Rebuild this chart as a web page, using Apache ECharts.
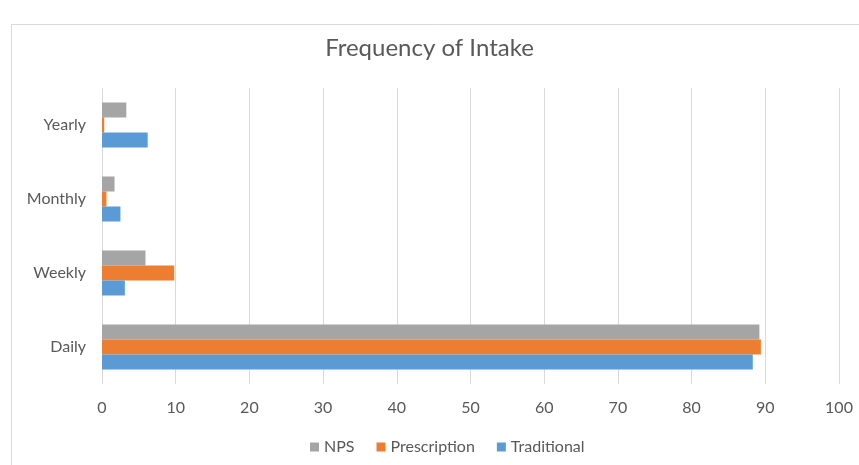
<!DOCTYPE html>
<html>
<head>
<meta charset="utf-8">
<script src="https://cdn.jsdelivr.net/npm/echarts@6/dist/echarts.min.js"></script>
<style>html,body{margin:0;padding:0;background:#fff}#c{width:859px;height:465px}</style>
</head>
<body>
<div id="c"></div>
<script>
var categories = ['Daily', 'Weekly', 'Monthly', 'Yearly'];
var traditional = [88.3, 3.1, 2.5, 6.2];
var prescription = [89.4, 9.8, 0.6, 0.3];
var nps = [89.2, 5.9, 1.7, 3.3];
var xTicks = [0, 10, 20, 30, 40, 50, 60, 70, 80, 90, 100];

var font = 'Lato, "Open Sans", sans-serif';
var chart = echarts.init(document.getElementById('c'), null, {renderer: 'canvas'});
chart.setOption({
  backgroundColor: '#ffffff',
  animation: false,
  graphic: [{
    type: 'rect', left: 9, top: 22,
    shape: {width: 900, height: 500},
    style: {fill: 'none', stroke: '#D9D9D9', lineWidth: 1}, silent: true, z: -1
  }],
  title: {
    text: 'Frequency of Intake', left: 'center', top: 31,
    textStyle: {fontFamily: font, fontSize: 24, fontWeight: 'normal', color: '#595959'}
  },
  legend: {
    data: ['NPS', 'Prescription', 'Traditional'],
    bottom: 5, left: 305, itemWidth: 9, itemHeight: 9, itemGap: 22,
    icon: 'rect',
    textStyle: {fontFamily: font, fontSize: 16, color: '#595959'}
  },
  grid: {left: 102, right: 20, top: 88, bottom: 81, containLabel: false},
  xAxis: {
    type: 'value', min: xTicks[0], max: xTicks[xTicks.length - 1], interval: 10,
    axisLine: {show: false}, axisTick: {show: false},
    splitLine: {lineStyle: {color: '#D9D9D9', width: 1}},
    axisLabel: {fontFamily: font, fontSize: 16, color: '#595959', margin: 16}
  },
  yAxis: {
    type: 'category', data: categories,
    axisLine: {show: false}, axisTick: {show: false},
    axisLabel: {fontFamily: font, fontSize: 16, color: '#595959', margin: 16}
  },
  series: [
    {name: 'NPS', type: 'bar', data: nps, barWidth: 15, barGap: '0%', itemStyle: {color: '#A5A5A5'}},
    {name: 'Prescription', type: 'bar', data: prescription, barWidth: 15, barGap: '0%', itemStyle: {color: '#ED7D31'}},
    {name: 'Traditional', type: 'bar', data: traditional, barWidth: 15, barGap: '0%', itemStyle: {color: '#5B9BD5'}}
  ]
});
</script>
</body>
</html>
